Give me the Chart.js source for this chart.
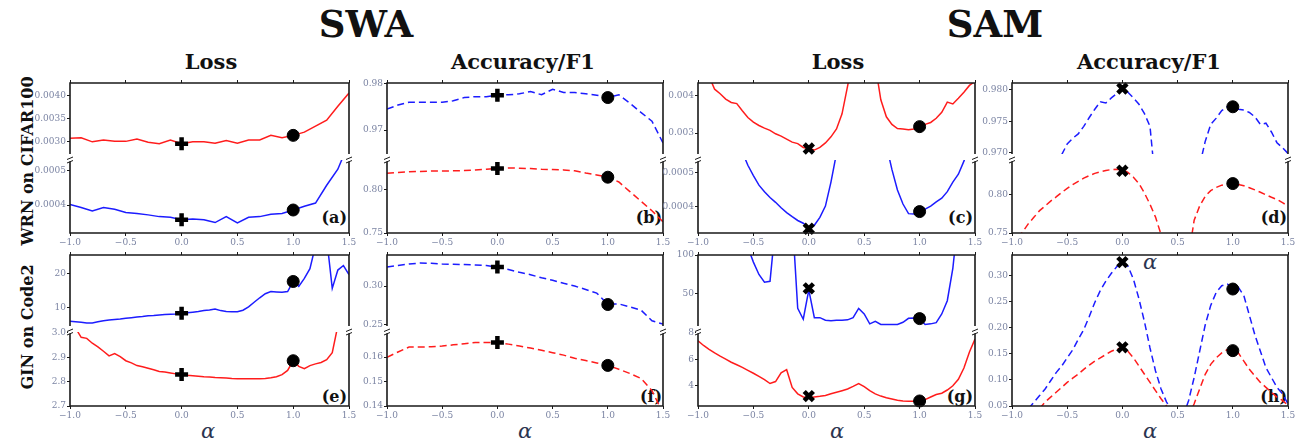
<!DOCTYPE html>
<html>
<head>
<meta charset="utf-8">
<script src="https://cdn.jsdelivr.net/npm/chart.js@4.4.1/dist/chart.umd.min.js"></script>
<style>
  body { margin: 0; width: 1312px; height: 442px; background: #fff; position: relative; overflow: hidden; font-family: 'DejaVu Serif', serif; }
  canvas { position: absolute; }
  .lbl { position: absolute; transform: translate(-50%, -50%); white-space: nowrap; line-height: 1; color: #111; font-weight: bold; }
  .big { font-size: 37px; }
  .head { font-size: 21px; }
  .row { font-size: 16px; transform: translate(-50%, -50%) rotate(-90deg); }
  .tag { font-size: 16px; transform: translate(-100%, -50%); }
  .alpha { font-size: 21px; font-style: italic; font-weight: normal; color: #2b3550; }
</style>
</head>
<body>
<div class="lbl big" style="left:366px;top:24px">SWA</div>
<div class="lbl big" style="left:995px;top:24px">SAM</div>
<div class="lbl head" style="left:211px;top:61px">Loss</div>
<div class="lbl head" style="left:523px;top:61px">Accuracy/F1</div>
<div class="lbl head" style="left:838px;top:61px">Loss</div>
<div class="lbl head" style="left:1149px;top:61px">Accuracy/F1</div>
<div class="lbl row" style="left:28px;top:161px">WRN on CIFAR100</div>
<div class="lbl row" style="left:28px;top:327px">GIN on Code2</div>
<div class="lbl tag" style="left:347px;top:218px">(a)</div>
<div class="lbl tag" style="left:662px;top:218px">(b)</div>
<div class="lbl tag" style="left:973px;top:218px">(c)</div>
<div class="lbl tag" style="left:1287px;top:218px">(d)</div>
<div class="lbl tag" style="left:347px;top:397px">(e)</div>
<div class="lbl tag" style="left:662px;top:397px">(f)</div>
<div class="lbl tag" style="left:973px;top:397px">(g)</div>
<div class="lbl tag" style="left:1287px;top:397px">(h)</div>
<div class="lbl alpha" style="left:208px;top:431px">α</div>
<div class="lbl alpha" style="left:525px;top:431px">α</div>
<div class="lbl alpha" style="left:837px;top:431px">α</div>
<div class="lbl alpha" style="left:1150px;top:431px">α</div>
<div class="lbl alpha" style="left:1150px;top:262px">α</div>

<script>
// interpolation coefficient grids
const alpha = [-1.0, -0.9, -0.8, -0.7, -0.6, -0.5, -0.4, -0.3, -0.2, -0.1, 0.0,
  0.1, 0.2, 0.3, 0.4, 0.5, 0.6, 0.7, 0.8, 0.9, 1.0, 1.1, 1.2, 1.3, 1.4, 1.5];
const alphaFine = [-1.0, -0.95, -0.9, -0.85, -0.8, -0.75, -0.7, -0.65, -0.6, -0.55,
  -0.5, -0.45, -0.4, -0.35, -0.3, -0.25, -0.2, -0.15, -0.1, -0.05,
  0.0, 0.05, 0.1, 0.15, 0.2, 0.25, 0.3, 0.35, 0.4, 0.45,
  0.5, 0.55, 0.6, 0.65, 0.7, 0.75, 0.8, 0.85, 0.9, 0.95,
  1.0, 1.05, 1.1, 1.15, 1.2, 1.25, 1.3, 1.35, 1.4, 1.45, 1.5];
const alphaTicks = ['−1.0', '−0.5', '0.0', '0.5', '1.0', '1.5'];
const markAlpha = [0, 1];

// (a) SWA loss, WRN on CIFAR100
const aRed = [0.00307, 0.00308, 0.00299, 0.00303, 0.00300, 0.00300, 0.00305, 0.00298, 0.00295, 0.00303, 0.00295,
  0.00299, 0.00299, 0.00296, 0.00302, 0.00296, 0.00303, 0.00303, 0.00313, 0.00308, 0.00313, 0.00320, 0.00333, 0.00346, 0.00376, 0.00405];
const aBlue = [0.000402, 0.000393, 0.000383, 0.000393, 0.000388, 0.000379, 0.000376, 0.000372, 0.000367, 0.000365, 0.000358,
  0.000360, 0.000358, 0.000350, 0.000367, 0.000349, 0.000365, 0.000367, 0.000374, 0.000376, 0.000386, 0.000397, 0.000406, 0.000457, 0.000503, 0.00058];
const aRedMarks = [0.00295, 0.00313];
const aBlueMarks = [0.000358, 0.000386];
const aTopTicks = ['0.0030', '0.0035', '0.0040'];
const aLowTicks = ['0.0004', '0.0005'];

// (b) SWA accuracy, WRN on CIFAR100
const bBlue = [0.9745, 0.9754, 0.9760, 0.9760, 0.9760, 0.9760, 0.9763, 0.9770, 0.9772, 0.9772, 0.9775,
  0.9776, 0.9778, 0.9783, 0.9776, 0.9788, 0.9781, 0.9781, 0.9778, 0.9775, 0.9770, 0.9776, 0.9758, 0.9738, 0.9719, 0.9672];
const bRed = [0.8193, 0.8204, 0.8211, 0.8215, 0.8219, 0.8220, 0.8222, 0.8226, 0.8233, 0.8241, 0.8248,
  0.8256, 0.8252, 0.8248, 0.8241, 0.8237, 0.8233, 0.8222, 0.8196, 0.8174, 0.8148, 0.8093, 0.7981, 0.7870, 0.7759, 0.7630];
const bBlueMarks = [0.9775, 0.9770];
const bRedMarks = [0.8248, 0.8148];
const bTopTicks = ['0.97', '0.98'];
const bLowTicks = ['0.75', '0.80'];

// (c) SAM loss, WRN on CIFAR100
const cRed = [null, null, 0.00450, 0.00416, 0.00404, 0.00390, 0.00381, 0.00378, 0.00359, 0.00341,
  0.00329, 0.00320, 0.00313, 0.00307, 0.00298, 0.00292, 0.00284, 0.00276, 0.00272, 0.00262,
  0.00259, 0.00255, 0.00262, 0.00274, 0.00290, 0.00311, 0.00351, 0.00424, 0.00500, null,
  null, null, 0.00480, 0.00388, 0.00343, 0.00323, 0.00312, 0.00311, 0.00309, 0.00311,
  0.00316, 0.00323, 0.00328, 0.00339, 0.00355, 0.00382, 0.00377, 0.00392, 0.00408, 0.00426, 0.00437];
const cBlue = [null, null, null, null, null, null, null, null, 0.000560, 0.000521,
  0.000491, 0.000463, 0.000444, 0.000427, 0.000413, 0.000397, 0.000383, 0.000371, 0.000360, 0.000352,
  0.000339, 0.000346, 0.000369, 0.000402, 0.000472, 0.000556, null, null, null, null,
  null, null, null, null, 0.000580, 0.000509, 0.000449, 0.000408, 0.000380, 0.000379,
  0.000384, 0.000393, 0.000402, 0.000414, 0.000425, 0.000444, 0.000472, 0.000495, 0.000533, 0.000580, null];
const cRedMarks = [0.00259, 0.00317];
const cBlueMarks = [0.000336, 0.000386];
const cTopTicks = ['0.003', '0.004'];
const cLowTicks = ['0.0004', '0.0005'];

// (d) SAM accuracy, WRN on CIFAR100
const dBlue = [null, null, null, null, null, null, null, null, null, 0.9697,
  0.9714, 0.9723, 0.9730, 0.9742, 0.9756, 0.9769, 0.9781, 0.9779, 0.9787, 0.9794,
  0.9801, 0.9796, 0.9787, 0.9777, 0.9762, 0.9742, 0.9650, null, null, null,
  null, null, null, null, 0.9680, 0.9718, 0.9745, 0.9755, 0.9767, 0.9773,
  0.9773, 0.9769, 0.9768, 0.9764, 0.9757, 0.9745, 0.9747, 0.9733, 0.9716, 0.9708, 0.9699];
const dRed = [null, 0.744, 0.752, 0.7625, 0.7708, 0.7792, 0.7854, 0.7917, 0.7971, 0.8029,
  0.8083, 0.8133, 0.8175, 0.8217, 0.8250, 0.8279, 0.8300, 0.8317, 0.8329, 0.8333,
  0.8329, 0.8292, 0.8229, 0.8146, 0.8021, 0.7875, 0.7708, 0.7480, 0.7300, null,
  null, null, 0.7200, 0.7667, 0.7854, 0.7979, 0.8054, 0.8096, 0.8125, 0.8138,
  0.8142, 0.8133, 0.8117, 0.8092, 0.8063, 0.8033, 0.8000, 0.7967, 0.7938, 0.7896, 0.7854];
const dBlueMarks = [0.9802, 0.9773];
const dRedMarks = [0.8313, 0.8146];
const dTopTicks = ['0.970', '0.975', '0.980'];
const dLowTicks = ['0.75', '0.80'];

// (e) SWA loss, GIN on Code2
const eBlue = [6.10, 6.02, 5.84, 5.66, 5.66, 6.00, 6.28, 6.46, 6.64, 6.80,
  7.00, 7.17, 7.35, 7.50, 7.70, 7.80, 7.96, 8.05, 8.14, 8.23,
  8.45, 8.58, 8.76, 8.94, 9.20, 9.38, 9.65, 9.20, 8.94, 8.85,
  8.85, 9.30, 10.27, 11.60, 12.90, 14.07, 14.70, 14.60, 14.50, 14.70,
  17.60, 16.20, 18.50, 21.30, 28.0, 32.0, 30.0, 15.60, 20.90, 22.20, 19.60];
const eRed = [null, 3.020, 2.982, 2.978, 2.958, 2.943, 2.925, 2.906, 2.915, 2.903,
  2.886, 2.877, 2.866, 2.861, 2.855, 2.849, 2.842, 2.840, 2.836, 2.832,
  2.829, 2.826, 2.824, 2.822, 2.820, 2.819, 2.817, 2.816, 2.815, 2.813,
  2.812, 2.812, 2.812, 2.812, 2.812, 2.813, 2.816, 2.820, 2.829, 2.846,
  2.886, 2.863, 2.853, 2.866, 2.873, 2.879, 2.890, 2.919, 3.030, null, null];
const eBlueMarks = [8.45, 17.6];
const eRedMarks = [2.829, 2.886];
const eTopTicks = ['10', '20'];
const eLowTicks = ['2.7', '2.8', '2.9', '3.0'];

// (f) SWA F1, GIN on Code2
const fBlue = [0.3248, 0.3268, 0.3288, 0.3300, 0.3296, 0.3288, 0.3284, 0.3280, 0.3276, 0.3268, 0.3248,
  0.3216, 0.3180, 0.3148, 0.3108, 0.3076, 0.3036, 0.3000, 0.2956, 0.2908, 0.2765, 0.2768, 0.2728, 0.2688, 0.2548, 0.2505];
const fRed = [0.1599, 0.1621, 0.1641, 0.1641, 0.1642, 0.1645, 0.1650, 0.1655, 0.1660, 0.1660, 0.1660,
  0.1653, 0.1645, 0.1637, 0.1628, 0.1618, 0.1608, 0.1595, 0.1586, 0.1576, 0.1566, 0.1550, 0.1533, 0.1513, 0.1463, 0.1370];
const fBlueMarks = [0.3248, 0.2760];
const fRedMarks = [0.1660, 0.1566];
const fTopTicks = ['0.25', '0.30'];
const fLowTicks = ['0.14', '0.15', '0.16'];

// (g) SAM loss, GIN on Code2
const gBlue = [null, null, null, null, null, null, null, null, null, 110,
  90.8, 74.8, 64.8, 66.0, 140, null, null, 150, 30.8, 16.8,
  54.8, 18.8, 18.8, 15.6, 14.8, 15.6, 15.6, 16.0, 18.8, 30.8,
  23.6, 10.8, 14.0, 10.0, 10.0, 10.0, 10.0, 12.8, 18.0, 18.4,
  17.6, 10.0, 10.8, 12.4, 23.6, 40.8, 82.8, 150, null, null, null];
const gRed = [7.41, 7.05, 6.76, 6.49, 6.24, 6.02, 5.78, 5.59, 5.39, 5.17,
  4.95, 4.71, 4.46, 4.17, 4.32, 4.98, 5.22, 3.88, 3.39, 3.15,
  3.10, 3.15, 3.20, 3.27, 3.39, 3.51, 3.63, 3.76, 3.95, 4.17,
  3.93, 3.63, 3.39, 3.22, 3.10, 3.00, 2.90, 2.85, 2.83, 2.83,
  2.83, 2.95, 3.15, 3.34, 3.44, 3.68, 4.00, 4.49, 5.34, 6.56, 7.54];
const gBlueMarks = [56.8, 17.6];
const gRedMarks = [3.22, 2.85];
const gTopTicks = ['50', '100'];
const gLowTicks = ['4', '6', '8'];

// (h) SAM F1, GIN on Code2
const hBlue = [null, null, null, 0.045, 0.0576, 0.0700, 0.0827, 0.0985, 0.1142, 0.1268,
  0.1426, 0.1580, 0.1780, 0.1970, 0.2220, 0.2490, 0.2720, 0.2900, 0.3050, 0.3180,
  0.3265, 0.3189, 0.2937, 0.2559, 0.2118, 0.1615, 0.1174, 0.0827, 0.0576, 0.0418,
  null, 0.030, 0.0607, 0.1048, 0.1552, 0.2056, 0.2433, 0.2685, 0.2811, 0.2843,
  0.2780, 0.2780, 0.2622, 0.2244, 0.1867, 0.1552, 0.1237, 0.1048, 0.0859, 0.0733, 0.0544];
const hRed = [null, null, null, null, null, 0.045, 0.0576, 0.0670, 0.0764, 0.0859,
  0.0953, 0.1035, 0.1111, 0.1205, 0.1287, 0.1363, 0.1426, 0.1489, 0.1552, 0.1596,
  0.1615, 0.1552, 0.1426, 0.1268, 0.1111, 0.0953, 0.0796, 0.0639, 0.0500, 0.030,
  null, null, 0.030, 0.0544, 0.0827, 0.1110, 0.1300, 0.1426, 0.1520, 0.1583,
  0.1564, 0.1520, 0.1363, 0.1205, 0.1079, 0.0953, 0.0859, 0.0764, 0.0670, 0.0607, 0.0513];
const hBlueMarks = [0.3265, 0.2748];
const hRedMarks = [0.1627, 0.1564];
const hTicks = ['0.05', '0.10', '0.15', '0.20', '0.25', '0.30'];

// layout (pixels)
const COLS = [[70, 349], [387, 663], [698, 975], [1012, 1288]];
const ROW1 = { top: 80, cut: 157, bottom: 233 };
const ROW2 = { top: 252, cut: 329, bottom: 406 };
const PAD_L = 50, PAD_R = 14, PAD_T = 8, PAD_B = 8, XLAB_H = 18;
const RED = 'rgb(255, 28, 28)';
const BLUE = 'rgb(28, 28, 255)';
const TICK_COLOR = '#7b84a3';
const TICK_FONT = { family: "'DejaVu Serif', serif", size: 9 };
const SWA_MARKS = ['cross', 'circle'];
const SAM_MARKS = ['crossRot', 'circle'];

const num = s => parseFloat(s.replace('−', '-'));

// black frame around the plot area plus the little break symbols
const framePlugin = {
  id: 'frame',
  afterDraw(chart, args, opts) {
    const { ctx, chartArea: a } = chart;
    ctx.save();
    ctx.strokeStyle = '#1a1a1a';
    ctx.lineWidth = 1.6;
    ctx.beginPath();
    ctx.moveTo(a.left, a.top); ctx.lineTo(a.left, a.bottom);
    ctx.moveTo(a.right, a.top); ctx.lineTo(a.right, a.bottom);
    if (opts.top) { ctx.moveTo(a.left - 0.8, a.top); ctx.lineTo(a.right + 0.8, a.top); }
    if (opts.bottom) { ctx.moveTo(a.left - 0.8, a.bottom); ctx.lineTo(a.right + 0.8, a.bottom); }
    ctx.stroke();
    if (opts.cut) {
      [a.left, a.right].forEach(x => {
        ctx.fillStyle = '#fff';
        ctx.fillRect(x - 2, a.top - 1.5, 4, 3);
        ctx.beginPath();
        ctx.lineWidth = 1;
        ctx.moveTo(x - 3, a.top - 0.5); ctx.lineTo(x + 3, a.top - 3);
        ctx.moveTo(x - 3, a.top + 3); ctx.lineTo(x + 3, a.top + 0.5);
        ctx.stroke();
      });
    }
    ctx.restore();
  }
};

function lineSet(xs, ys, color, dashed) {
  return {
    data: xs.map((x, i) => ({ x, y: ys[i] })),
    borderColor: color,
    borderWidth: 1.5,
    borderDash: dashed ? [7, 4] : [],
    pointRadius: 0,
    fill: false,
    tension: 0,
    spanGaps: false
  };
}

function markSet(ys, styles) {
  return {
    data: markAlpha.map((x, i) => ({ x, y: ys[i] })),
    showLine: false,
    pointStyle: styles,
    pointRadius: styles.map(s => s === 'circle' ? 6 : 6.5),
    pointBorderWidth: styles.map(s => s === 'circle' ? 1 : 4.5),
    pointBackgroundColor: '#000',
    pointBorderColor: '#000',
    clip: false
  };
}

// one plot area; part = 'top' | 'low' | 'full'
function subplot(col, y0, y1, part, yMin, yMax, yTicks, datasets) {
  const [x0, x1] = COLS[col];
  const hasLabels = part !== 'top';
  const hasTopTicks = part !== 'low';
  const canvas = document.createElement('canvas');
  canvas.width = x1 - x0 + PAD_L + PAD_R;
  canvas.height = y1 - y0 + PAD_T + (hasLabels ? XLAB_H : PAD_B);
  canvas.style.left = (x0 - PAD_L) + 'px';
  canvas.style.top = (y0 - PAD_T) + 'px';
  document.body.appendChild(canvas);

  new Chart(canvas, {
    type: 'line',
    data: { datasets },
    options: {
      responsive: false,
      animation: false,
      events: [],
      devicePixelRatio: 1,
      layout: { padding: { left: 0, right: PAD_R, top: hasTopTicks ? 0 : PAD_T, bottom: hasLabels ? 0 : PAD_B } },
      plugins: {
        legend: { display: false },
        tooltip: { enabled: false },
        frame: { top: hasTopTicks, bottom: hasLabels, cut: part === 'low' }
      },
      scales: {
        x: {
          type: 'linear', min: -1, max: 1.5, position: 'bottom',
          display: hasLabels,
          afterBuildTicks: s => { s.ticks = alphaTicks.map(t => ({ value: num(t) })); },
          afterFit: s => { s.height = hasLabels ? XLAB_H : 0; s.paddingLeft = 0; s.paddingRight = 0; },
          ticks: { callback: (v, i) => alphaTicks[i], color: TICK_COLOR, font: TICK_FONT, padding: 1, maxRotation: 0, autoSkip: false },
          grid: { drawOnChartArea: false, tickLength: 3, color: '#1a1a1a' },
          border: { display: false }
        },
        xt: {
          type: 'linear', min: -1, max: 1.5, position: 'top',
          display: hasTopTicks,
          afterBuildTicks: s => { s.ticks = alphaTicks.map(t => ({ value: num(t) })); },
          afterFit: s => { s.height = hasTopTicks ? PAD_T : 0; s.paddingLeft = 0; s.paddingRight = 0; },
          ticks: { display: false },
          grid: { drawOnChartArea: false, tickLength: 3, color: '#1a1a1a' },
          border: { display: false }
        },
        y: {
          type: 'linear', min: yMin, max: yMax,
          afterBuildTicks: s => { s.ticks = yTicks.map(t => ({ value: num(t) })); },
          afterFit: s => { s.width = PAD_L; s.paddingTop = 0; s.paddingBottom = 0; },
          ticks: { callback: (v, i) => yTicks[i], color: TICK_COLOR, font: TICK_FONT, padding: 1, autoSkip: false },
          grid: { drawOnChartArea: false, tickLength: 3, color: '#1a1a1a' },
          border: { display: false }
        }
      }
    },
    plugins: [framePlugin]
  });
}

// top row: WRN on CIFAR100
subplot(0, ROW1.top, ROW1.cut, 'top', 0.002726, 0.004266, aTopTicks,
  [markSet(aRedMarks, SWA_MARKS), lineSet(alpha, aRed, RED, false)]);
subplot(0, ROW1.cut, ROW1.bottom, 'low', 0.000320, 0.0005295, aLowTicks,
  [markSet(aBlueMarks, SWA_MARKS), lineSet(alpha, aBlue, BLUE, false)]);

subplot(1, ROW1.top, ROW1.cut, 'top', 0.96483, 0.98014, bTopTicks,
  [markSet(bBlueMarks, SWA_MARKS), lineSet(alpha, bBlue, BLUE, true)]);
subplot(1, ROW1.cut, ROW1.bottom, 'low', 0.75, 0.8348, bLowTicks,
  [markSet(bRedMarks, SWA_MARKS), lineSet(alpha, bRed, RED, true)]);

subplot(2, ROW1.top, ROW1.cut, 'top', 0.002446, 0.004324, cTopTicks,
  [markSet(cRedMarks, SAM_MARKS), lineSet(alphaFine, cRed, RED, false)]);
subplot(2, ROW1.cut, ROW1.bottom, 'low', 0.0003235, 0.0005364, cLowTicks,
  [markSet(cBlueMarks, SAM_MARKS), lineSet(alphaFine, cBlue, BLUE, false)]);

subplot(3, ROW1.top, ROW1.cut, 'top', 0.96981, 0.98107, dTopTicks,
  [markSet(dBlueMarks, SAM_MARKS), lineSet(alphaFine, dBlue, BLUE, true)]);
subplot(3, ROW1.cut, ROW1.bottom, 'low', 0.75, 0.8454, dLowTicks,
  [markSet(dRedMarks, SAM_MARKS), lineSet(alphaFine, dRed, RED, true)]);

// bottom row: GIN on Code2
subplot(0, ROW2.top, ROW2.cut, 'top', 4.76, 25.24, eTopTicks,
  [markSet(eBlueMarks, SWA_MARKS), lineSet(alphaFine, eBlue, BLUE, false)]);
subplot(0, ROW2.cut, ROW2.bottom, 'low', 2.7, 3.004, eLowTicks,
  [markSet(eRedMarks, SWA_MARKS), lineSet(alphaFine, eRed, RED, false)]);

subplot(1, ROW2.top, ROW2.cut, 'top', 0.248, 0.3405, fTopTicks,
  [markSet(fBlueMarks, SWA_MARKS), lineSet(alpha, fBlue, BLUE, true)]);
subplot(1, ROW2.cut, ROW2.bottom, 'low', 0.14, 0.17026, fLowTicks,
  [markSet(fRedMarks, SWA_MARKS), lineSet(alpha, fRed, RED, true)]);

subplot(2, ROW2.top, ROW2.cut, 'top', 8.03, 100, gTopTicks,
  [markSet(gBlueMarks, SAM_MARKS), lineSet(alphaFine, gBlue, BLUE, false)]);
subplot(2, ROW2.cut, ROW2.bottom, 'low', 2.47, 8.07, gLowTicks,
  [markSet(gRedMarks, SAM_MARKS), lineSet(alphaFine, gRed, RED, false)]);

subplot(3, ROW2.top, ROW2.bottom, 'full', 0.05, 0.3402, hTicks,
  [markSet(hBlueMarks, SAM_MARKS), markSet(hRedMarks, SAM_MARKS),
   lineSet(alphaFine, hBlue, BLUE, true), lineSet(alphaFine, hRed, RED, true)]);
</script>
</body>
</html>
